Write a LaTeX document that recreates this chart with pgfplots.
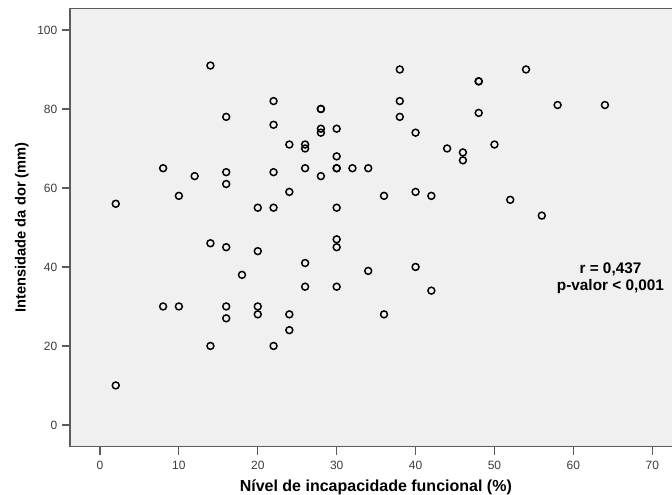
\documentclass[border=0pt]{standalone}
\usepackage{pgfplots}
\pgfplotsset{compat=1.18}
\usepackage{pgfplotstable}
\usepackage{fontspec}
\setmainfont{Liberation Sans}
\definecolor{bggray}{HTML}{F0F0F0}
\definecolor{linegray}{HTML}{5C5C5C}
\definecolor{labgray}{HTML}{3C3C3C}

% nivel de incapacidade (%) vs intensidade da dor (mm)
\pgfplotstableread{
x  y
2  56
2  10
8  65
8  30
10 58
10 30
12 63
14 91
14 46
14 20
16 78
16 64
16 61
16 45
16 30
16 27
18 38
20 55
20 44
20 30
20 28
22 82
22 76
22 64
22 55
22 20
24 71
24 59
24 28
24 24
26 71
26 70
26 65
26 41
26 35
28 80
28 80
28 75
28 74
28 63
30 75
30 68
30 65
30 65
30 55
30 47
30 45
30 35
32 65
34 65
34 39
36 58
36 28
38 90
38 82
38 78
40 74
40 59
40 40
42 58
42 34
44 70
46 69
46 67
48 87
48 87
48 79
50 71
52 57
54 90
56 53
58 81
64 81
}\dados

\begin{document}
\begin{tikzpicture}
\begin{axis}[
    width=451.5pt, height=328.8pt, scale only axis,
    xmin=-3.8, xmax=72.5,
    ymin=-5.5, ymax=105.5,
    axis background/.style={fill=bggray},
    axis x line*=box, axis y line*=left,
    axis line style={linegray, line width=1.1pt},
    xtick={0,10,...,70}, ytick={0,20,...,100},
    xtick pos=bottom, ytick pos=left,
    tick align=outside, major tick length=6pt,
    tick style={linegray, line width=0.9pt},
    /pgf/number format/assume math mode=true,
    ticklabel style={font=\fontsize{9}{10}\selectfont, text=labgray},
    xticklabel style={yshift=-1pt},
    xlabel={Nível de incapacidade funcional (\%)},
    ylabel={Intensidade da dor (mm)},
    xlabel style={font=\bfseries\fontsize{12}{14}\selectfont, at={(axis description cs:0.508,-0.092)}, anchor=center},
    ylabel style={font=\bfseries\fontsize{11}{13}\selectfont, at={(axis description cs:-0.080,0.5)}, anchor=center},
    clip=false,
]
\addplot[only marks, mark=o, mark size=2.6pt, mark options={line width=1.1pt, draw=black}]
    table[x=x, y=y] {\dados};
\node[font=\bfseries\fontsize{11.5}{13}\selectfont, align=center, inner sep=0pt]
    at (axis cs:64.7,37.2) {r = 0,437\\p-valor < 0,001};
\end{axis}
\pgfresetboundingbox
\useasboundingbox (-52.5pt,-36.2pt) rectangle (451.5pt,335.0pt);
\end{tikzpicture}
\end{document}
